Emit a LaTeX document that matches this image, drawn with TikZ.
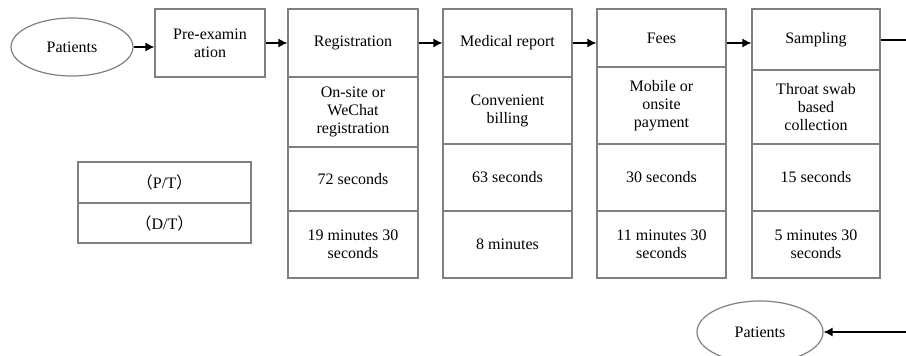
\documentclass[tikz,border=0pt]{standalone}
\usepackage{fontspec}
\setmainfont{Liberation Serif}
\newfontfamily\cjk{Noto Sans CJK SC}
\usepackage{tikz}
\usetikzlibrary{shapes}
\usetikzlibrary{arrows.meta}
\tikzstyle{patient}=[ellipse,draw=gray,line width=1.2pt,text=black]
\tikzstyle{etape}=[rectangle,draw=gray,line width=1.2pt,align=center,inner sep=2pt]
\tikzstyle{suite}=[-{Latex[length=9pt,width=9pt]},line width=1.3pt,black]

\begin{document}
\begin{tikzpicture}[x=1pt,y=-1pt,font=\fontsize{16}{18}\selectfont]
\clip (0,0) rectangle (906,356);
\node[patient,minimum width=122pt,minimum height=58pt] (p1) at (72,47) {Patients};
\node[etape,minimum width=110pt,minimum height=68pt] (pre) at (210,43) {Pre-examin\\ation};
% Registration
\node[etape,minimum width=130pt,minimum height=68pt] (reg) at (353,43) {Registration};
\node[etape,minimum width=130pt,minimum height=70pt] (regm) at (353,112) {On-site or\\WeChat\\registration};
\node[etape,minimum width=130pt,minimum height=64pt] (regpt) at (353,179) {72 seconds};
\node[etape,minimum width=130pt,minimum height=67pt] (regdt) at (353,244.5) {19 minutes 30\\seconds};
% Medical report
\node[etape,minimum width=129pt,minimum height=68pt] (med) at (507.5,43) {Medical report};
\node[etape,minimum width=129pt,minimum height=67pt] (medm) at (507.5,110.5) {Convenient\\billing};
\node[etape,minimum width=129pt,minimum height=67pt] (medpt) at (507.5,177.5) {63 seconds};
\node[etape,minimum width=129pt,minimum height=67pt] (meddt) at (507.5,244.5) {8 minutes};
% Fees
\node[etape,minimum width=129pt,minimum height=58pt] (fee) at (661.5,38) {Fees};
\node[etape,minimum width=129pt,minimum height=77pt] (feem) at (661.5,105.5) {Mobile or\\onsite\\payment};
\node[etape,minimum width=129pt,minimum height=67pt] (feept) at (661.5,177.5) {30 seconds};
\node[etape,minimum width=129pt,minimum height=67pt] (feedt) at (661.5,244.5) {11 minutes 30\\seconds};
% Sampling
\node[etape,minimum width=128pt,minimum height=61pt] (samp) at (816,39.5) {Sampling};
\node[etape,minimum width=128pt,minimum height=74pt] (sampm) at (816,107) {Throat swab\\based\\collection};
\node[etape,minimum width=128pt,minimum height=67pt] (samppt) at (816,177.5) {15 seconds};
\node[etape,minimum width=128pt,minimum height=67pt] (sampdt) at (816,244.5) {5 minutes 30\\seconds};
% legende
\node[etape,minimum width=173pt,minimum height=41pt] (pt) at (164.5,182.5) {{\cjk （}P/T{\cjk ）}};
\node[etape,minimum width=173pt,minimum height=40pt] (dt) at (164.5,223) {{\cjk （}D/T{\cjk ）}};
\node[patient,minimum width=126pt,minimum height=62pt] (p2) at (760,332) {Patients};
\coordinate (tour) at (914,40);
%fleches
\draw[suite] (p1) -- (p1 -| pre.west);
\draw[suite] (pre) -- (pre -| reg.west);
\draw[suite] (reg) -- (med);
\draw[suite] (med) -- (med -| fee.west);
\draw[suite] (med -| fee.east) -- (med -| samp.west);
\draw[suite] (samp.east |- tour) -- (tour) |- (p2);
\end{tikzpicture}
\end{document}
